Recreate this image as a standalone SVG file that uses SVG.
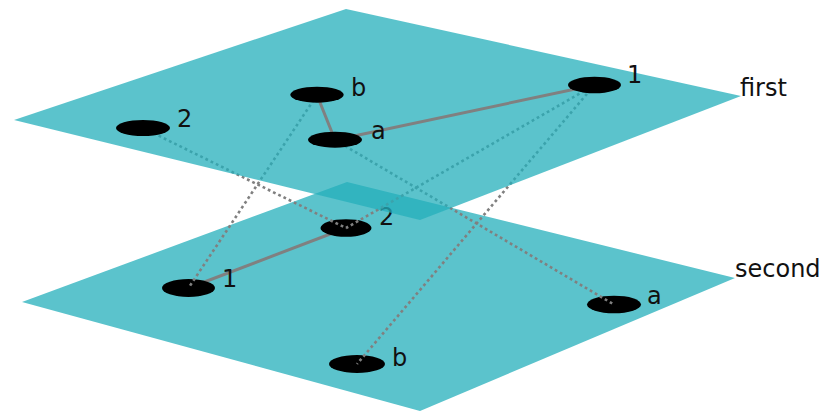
<svg xmlns="http://www.w3.org/2000/svg" width="827" height="413" viewBox="0 0 827 413">
<style>
.node ellipse{fill:#000}
.lbl{font-family:"DejaVu Sans",sans-serif;font-size:24px;fill:#111}
.solid{stroke:#808080;stroke-width:3;fill:none;stroke-linecap:butt}
.dot{stroke:#808080;stroke-width:2.6;fill:none;stroke-dasharray:2.8 3}
</style>
<rect width="827" height="413" fill="#fff"/>
<polygon id="plane-second" points="22,302 347,182 735,278 420,411" fill="#5BC3CC"/>
<g id="edges-second">
<line class="solid" x1="188.5" y1="288" x2="346" y2="228"/>
</g>
<g id="node-second-1" class="node"><ellipse cx="188.5" cy="288" rx="26.5" ry="9"/><text class="lbl" x="222" y="287">1</text></g>
<g id="node-second-2" class="node"><ellipse cx="346" cy="228" rx="25.5" ry="8.8"/><text class="lbl" x="379" y="225">2</text></g>
<g id="node-second-a" class="node"><ellipse cx="614" cy="304.5" rx="27" ry="8.8"/><text class="lbl" x="647" y="304">a</text></g>
<g id="node-second-b" class="node"><ellipse cx="357" cy="364" rx="28" ry="9"/><text class="lbl" x="392" y="366">b</text></g>
<g id="connectors">
<line class="dot" x1="143" y1="128" x2="346" y2="228"/>
<line class="dot" x1="317" y1="95" x2="188.5" y2="288"/>
<line class="dot" x1="335" y1="140" x2="614" y2="304.5"/>
<line class="dot" x1="594.5" y1="85" x2="346" y2="228"/>
<line class="dot" x1="594.5" y1="85" x2="357" y2="364"/>
</g>
<polygon id="plane-first" points="14,120 346,9 741,96 420,220" fill="rgb(36,175,187)" fill-opacity="0.75"/>
<g id="edges-first">
<line class="solid" x1="317" y1="95" x2="335" y2="140"/>
<line class="solid" x1="335" y1="140" x2="594.5" y2="85"/>
</g>
<g id="node-first-2" class="node"><ellipse cx="143" cy="128" rx="27" ry="8"/><text class="lbl" x="177" y="127">2</text></g>
<g id="node-first-b" class="node"><ellipse cx="317" cy="94.7" rx="26.7" ry="8"/><text class="lbl" x="351" y="96">b</text></g>
<g id="node-first-a" class="node"><ellipse cx="335" cy="139.7" rx="27" ry="8"/><text class="lbl" x="371" y="139">a</text></g>
<g id="node-first-1" class="node"><ellipse cx="594.5" cy="85" rx="26.5" ry="8.3"/><text class="lbl" x="627" y="83">1</text></g>
<text id="label-first" class="lbl" x="740" y="96">first</text>
<text id="label-second" class="lbl" x="735" y="277">second</text>
</svg>
